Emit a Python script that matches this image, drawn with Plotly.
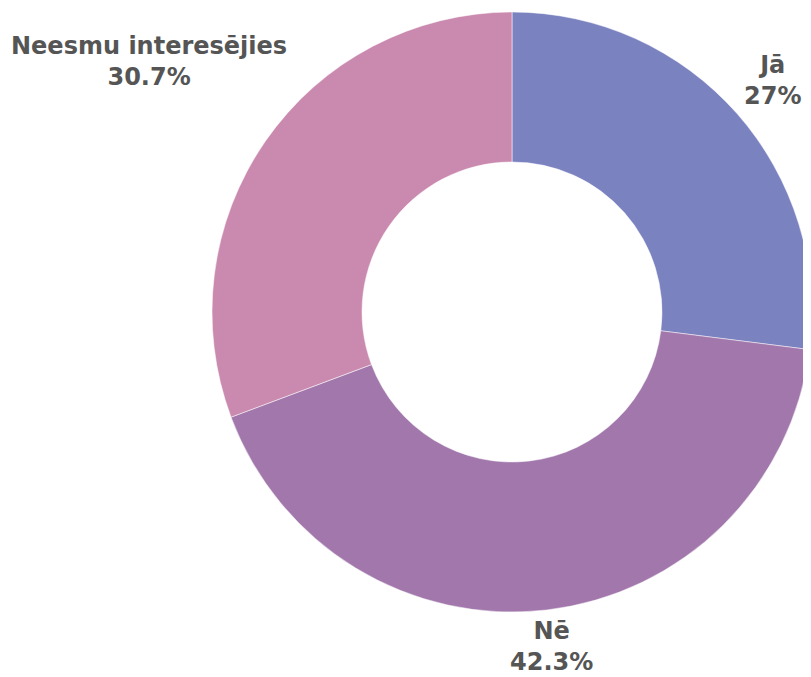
import plotly.graph_objects as go

# answers and their share of respondents (%)
labels = ['Jā', 'Nē', 'Neesmu interesējies']
values = [27, 42.3, 30.7]
colors = ['#7b82c0', '#a277ac', '#ca8aaf']

# where each outside label sits (pixels from top-left of the 811x677 canvas)
label_pos = [(772, 80), (551, 646), (149, 61)]

W, H = 811, 677
OFF = 8  # the page body adds an 8px margin, pull everything back by that much

fig = go.Figure(go.Pie(
    labels=labels,
    values=values,
    hole=0.5,
    sort=False,
    direction='clockwise',
    rotation=0,
    marker=dict(colors=colors, line=dict(color='#ffffff', width=0.5)),
    textinfo='none',
    hoverinfo='label+percent',
    domain=dict(x=[(212 - OFF) / W, (812 - OFF) / W],
                y=[1 - (612 - OFF) / H, 1 - (12 - OFF) / H]),
    showlegend=False,
))

total = sum(values)
for lab, val, (px_, py_) in zip(labels, values, label_pos):
    pct = f'{val / total * 100:.1f}'.rstrip('0').rstrip('.')
    fig.add_annotation(
        x=(px_ - OFF) / W, y=1 - (py_ - OFF) / H, xref='paper', yref='paper',
        text=f'<b>{lab}</b><br><b>{pct}%</b>',
        showarrow=False, xanchor='center', yanchor='middle', align='center',
        font=dict(family='DejaVu Sans, sans-serif', size=24, color='#555555'),
    )

fig.update_layout(
    width=W,
    height=H,
    margin=dict(l=0, r=0, t=0, b=0),
    paper_bgcolor='#ffffff',
    plot_bgcolor='#ffffff',
)

fig.write_html('out.html')
